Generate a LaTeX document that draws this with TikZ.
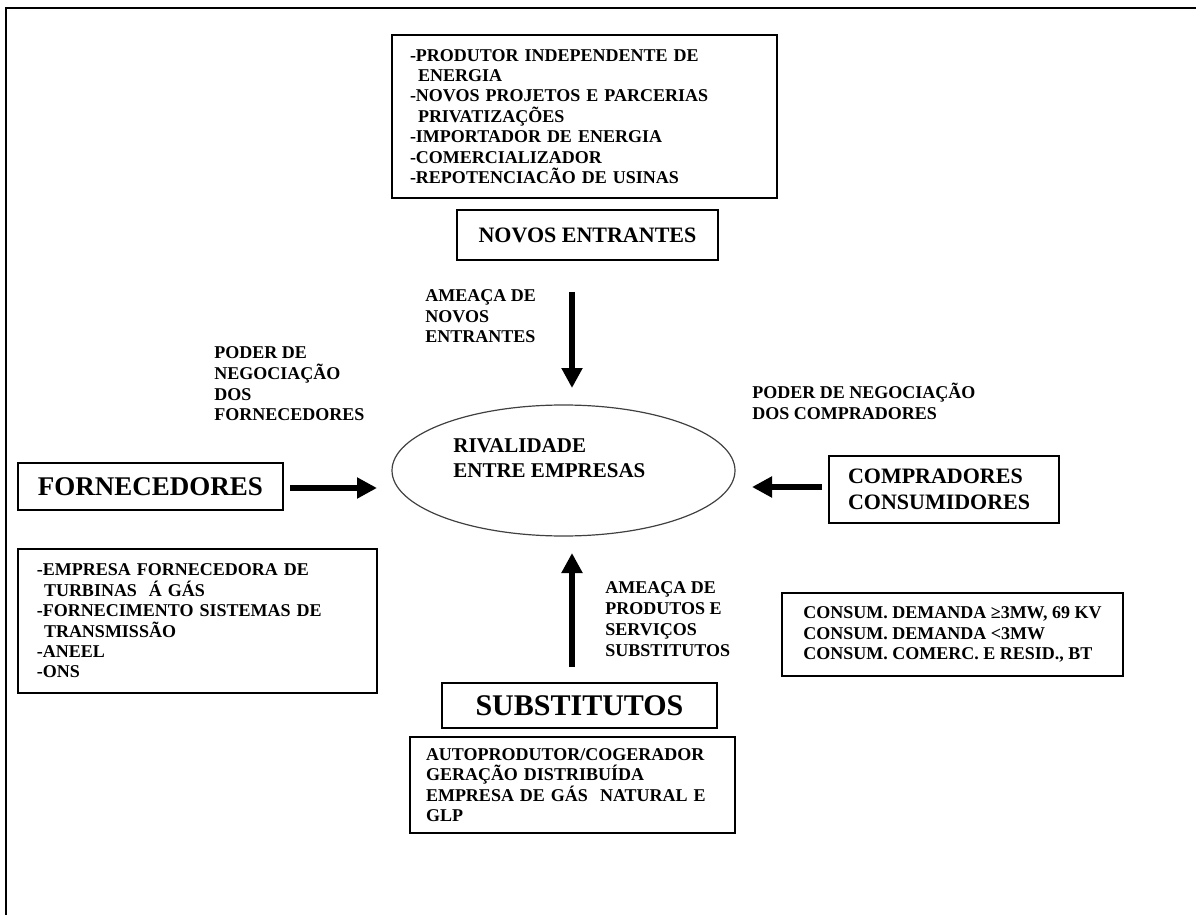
\documentclass[tikz,border=0pt]{standalone}
\usepackage{fontspec}
\setmainfont{Liberation Serif}
\usetikzlibrary{arrows.meta, shapes.geometric, positioning}
\newcommand{\listfont}{\fontsize{9}{10.2}\selectfont\bfseries}

\begin{document}
\begin{tikzpicture}[x=0.5pt, y=-0.5pt, >={Triangle[length=10pt, width=10pt]},
    listbox/.style={rectangle, draw, line width=0.8pt, align=left,
                    inner ysep=0pt, font=\listfont},
    titlebox/.style={rectangle, draw, line width=0.8pt, inner sep=0pt,
                     font=\bfseries},
    lbl/.style={anchor=base west, align=left, inner sep=0pt,
                font=\fontsize{9}{10.4}\selectfont\bfseries},
    arrow/.style={->, line width=2.8pt}]

    \useasboundingbox (0,0) rectangle (1196,915);
    % page frame - only top and left edges show
    \draw[line width=0.9pt] (1196,8) -- (6,8) -- (6,915);

    % Novos entrantes (top)
    \node[listbox, text width=174.5pt, inner xsep=9pt, minimum height=81.5pt]
        (entrlist) at (584.5,116.5)
        {-PRODUTOR INDEPENDENTE DE\\
         \hspace*{4pt}ENERGIA\\
         -NOVOS PROJETOS E PARCERIAS\\
         \hspace*{4pt}PRIVATIZAÇÕES\\
         -IMPORTADOR DE ENERGIA\\
         -COMERCIALIZADOR\\
         -REPOTENCIACÃO DE USINAS};
    \node[titlebox, minimum width=130.5pt, minimum height=25pt,
          font=\fontsize{11}{13}\selectfont\bfseries]
        (entr) at (587.5,235) {NOVOS ENTRANTES};

    % Rivalidade (centre)
    \node[ellipse, draw=black!75, line width=0.6pt, minimum width=171.5pt,
          minimum height=65.5pt, inner sep=0pt] (rival) at (563.5,470.5) {};
    \node[anchor=base west, align=left, inner sep=0pt,
          font=\fontsize{10.5}{12.5}\selectfont\bfseries]
        (rivaltxt) at (453,477) {RIVALIDADE\\ENTRE EMPRESAS};

    % Fornecedores (left)
    \node[titlebox, minimum width=132.5pt, minimum height=23.5pt,
          font=\fontsize{13.5}{15}\selectfont\bfseries]
        (forn) at (150.5,486.5) {FORNECEDORES};
    \node[listbox, text width=160.5pt, inner xsep=9.5pt, minimum height=72pt]
        (fornlist) at (197.5,621)
        {-EMPRESA FORNECEDORA DE\\
         \hspace*{3.5pt}TURBINAS\ \ Á GÁS\\
         -FORNECIMENTO SISTEMAS DE\\
         \hspace*{3.5pt}TRANSMISSÃO\\
         -ANEEL\\
         -ONS};

    % Compradores (right)
    \node[listbox, text width=96pt, inner xsep=9.5pt, minimum height=33.5pt,
          font=\fontsize{11}{13}\selectfont\bfseries]
        (comp) at (944,489.5) {COMPRADORES\\CONSUMIDORES};
    \node[listbox, minimum width=170.5pt, minimum height=41.5pt]
        (cons) at (952.5,634.5)
        {CONSUM. DEMANDA ≥3MW, 69 KV\\
         CONSUM. DEMANDA <3MW\\
         CONSUM. COMERC. E RESID., BT};

    % Substitutos (bottom)
    \node[titlebox, minimum width=137.5pt, minimum height=22.5pt,
          font=\fontsize{15}{17}\selectfont\bfseries]
        (subst) at (579.5,705.5) {SUBSTITUTOS};
    \node[listbox, text width=146.5pt, inner xsep=8pt, minimum height=48pt]
        (substlist) at (572.5,785)
        {AUTOPRODUTOR/COGERADOR\\
         GERAÇÃO DISTRIBUÍDA\\
         EMPRESA DE GÁS\ \ NATURAL E\\
         GLP};

    % Force labels (anchored on their last line)
    \node[lbl] (ameacaent) at (425,343) {AMEAÇA DE\\NOVOS\\ENTRANTES};
    \node[lbl] (poderforn) at (214,421) {PODER DE\\NEGOCIAÇÃO\\DOS\\FORNECEDORES};
    \node[lbl] (podercomp) at (752,419) {PODER DE NEGOCIAÇÃO\\DOS COMPRADORES};
    \node[lbl] (ameacasub) at (605,656) {AMEAÇA DE\\PRODUTOS E\\SERVIÇOS\\SUBSTITUTOS};

    % Arrow ends
    \coordinate (downtop) at (572,292);
    \coordinate (downtip) at (572,388);
    \coordinate (uptail) at (572,667);
    \coordinate (uptip) at (572,553);
    \coordinate (rtail) at (290,488);
    \coordinate (rtip) at (377,488);
    \coordinate (ltail) at (822,487);
    \coordinate (ltip) at (752,487);

    % Arrows
    \draw[arrow] (downtop) -- (downtip);
    \draw[arrow] (uptail) -- (uptip);
    \draw[arrow] (rtail) -- (rtip);
    \draw[arrow] (ltail) -- (ltip);

\end{tikzpicture}
\end{document}
